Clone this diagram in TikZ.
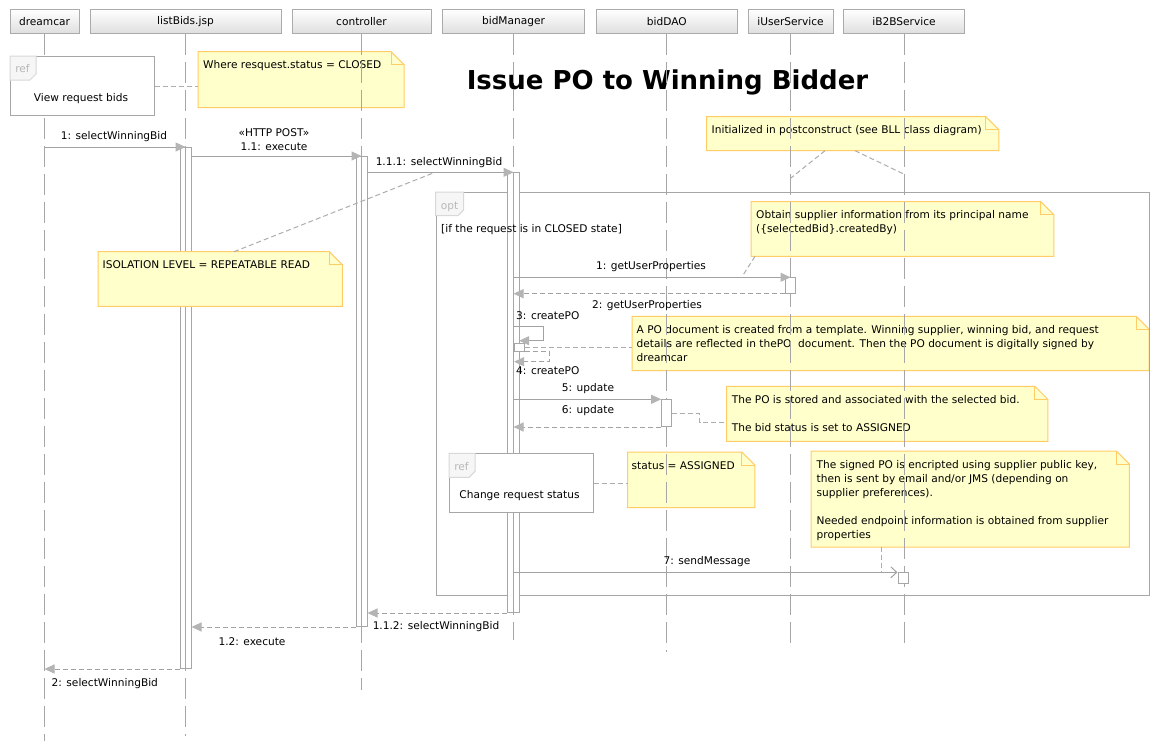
\documentclass[tikz,border=0pt]{standalone}
\usepackage{fontspec}
\setmainfont{DejaVu Sans}
\usetikzlibrary{arrows.meta,calc}
\definecolor{lgray}{HTML}{A6A6A6}
\definecolor{mgray}{HTML}{A2A2A2}
\definecolor{agray}{HTML}{B4B4B4}
\definecolor{cgray}{HTML}{ADADAD}
\definecolor{hdrdraw}{HTML}{ABABAB}
\definecolor{hdrbot}{HTML}{DEDEDE}
\definecolor{notefillc}{HTML}{FFFFCC}
\definecolor{notedrawc}{HTML}{FFCC66}
\definecolor{tagdraw}{HTML}{D8D8D8}
\definecolor{tagfill}{HTML}{F6F6F6}
\definecolor{tagtext}{HTML}{B8B8B8}
\newcommand\drawnote[1]{%
  \path[notebody] (#1.north west) -- ([xshift=-13pt]#1.north east) -- ([yshift=-13pt]#1.north east) -- (#1.south east) -- (#1.south west) -- cycle;
  \draw[notedrawc, line width=1pt] ([xshift=-13pt]#1.north east) -- ([xshift=-13pt,yshift=-13pt]#1.north east) -- ([yshift=-13pt]#1.north east);}
\begin{document}
\begin{tikzpicture}[x=1pt,y=-1pt,
  font=\fontsize{10.6}{14}\selectfont,
  hdr/.style={draw=hdrdraw, line width=1pt, top color=white, bottom color=hdrbot, minimum height=24pt, inner sep=0pt, anchor=north},
  lifeline/.style={draw=lgray, line width=1pt, dash pattern=on 21pt off 7pt},
  act/.style={draw=lgray, fill=white, line width=1pt, inner sep=0pt, anchor=north},
  noteshape/.style={anchor=north west, inner sep=0pt, draw=none},
  notebody/.style={fill=notefillc, draw=notedrawc, line width=1pt},
  notetext/.style={anchor=north west, inner sep=0pt, align=left},
  msg/.style={draw=mgray, line width=1pt, -{Triangle[length=10pt,width=9pt,color=agray]}},
  ret/.style={msg, dash pattern=on 5pt off 3pt},
  async/.style={draw=mgray, line width=1pt, -{Straight Barb[length=6pt,width=11pt,color=mgray]}},
  conn/.style={draw=cgray, line width=1pt, dash pattern=on 5pt off 3pt},
  lbl/.style={anchor=base, inner sep=0pt},
  refbox/.style={draw=lgray, fill=white, line width=1pt, anchor=north west, inner sep=0pt},
  tag/.style={draw=tagdraw, fill=tagfill, line width=1pt},
  tagtxt/.style={anchor=base, inner sep=0pt, text=tagtext}]

\path[use as bounding box, fill=white] (0,0) rectangle (1160,750);

% ---------- notes (under lifelines) ----------
\node[noteshape, minimum width=205.6pt, minimum height=55.6pt] (nWhere) at (198,51.7) {};
\drawnote{nWhere}
\node[notetext] (nWhereT) at ([xshift=5pt,yshift=-7.2pt]nWhere.north west) {\strut Where resquest.status = CLOSED};

\node[noteshape, minimum width=291.9pt, minimum height=33.6pt] (nInit) at (706.5,116.7) {};
\drawnote{nInit}
\node[notetext] (nInitT) at ([xshift=5pt,yshift=-7.2pt]nInit.north west) {\strut Initialized in postconstruct (see BLL class diagram)};

\node[noteshape, minimum width=302.5pt, minimum height=54.3pt] (nObtain) at (751,201.7) {};
\drawnote{nObtain}
\node[notetext] (nObtainT) at ([xshift=5pt,yshift=-7.2pt]nObtain.north west) {\strut Obtain supplier information from its principal name\\(\{selectedBid\}.createdBy)};

\node[noteshape, minimum width=516.8pt, minimum height=54pt] (nPO) at (632,316.3) {};
\drawnote{nPO}
\node[notetext] (nPOT) at ([xshift=4.5pt,yshift=-7.2pt]nPO.north west) {\strut A PO document is created from a template. Winning supplier, winning bid, and request\\details are reflected in thePO\ \ document. Then the PO document is digitally signed by\\dreamcar};

\node[noteshape, minimum width=320.8pt, minimum height=54.7pt] (nStored) at (726.6,386.3) {};
\drawnote{nStored}
\node[notetext] (nStoredT) at ([xshift=5pt,yshift=-7.2pt]nStored.north west) {\strut The PO is stored and associated with the selected bid.\\[14pt]The bid status is set to ASSIGNED};

\node[noteshape, minimum width=126.9pt, minimum height=55.3pt] (nStatus) at (627.5,452) {};
\drawnote{nStatus}
\node[notetext] (nStatusT) at ([xshift=4pt,yshift=-7.2pt]nStatus.north west) {\strut status = ASSIGNED};

\node[noteshape, minimum width=318pt, minimum height=95.7pt] (nSigned) at (811,451) {};
\drawnote{nSigned}
\node[notetext] (nSignedT) at ([xshift=5.5pt,yshift=-7.2pt]nSigned.north west) {\strut The signed PO is encripted using supplier public key,\\then is sent by email and/or JMS (depending on\\supplier preferences).\\[14pt]Needed endpoint information is obtained from supplier\\properties};

% ---------- title ----------
\node[anchor=base, inner sep=0pt, font=\fontsize{26}{30}\selectfont\bfseries] (title) at (667.5,89.3) {Issue PO to Winning Bidder};

% ---------- lifeline heads ----------
\node[hdr, minimum width=69pt] (hDream) at (44.5,9.3) {dreamcar};
\node[hdr, minimum width=191pt] (hList) at (185.5,9.3) {listBids.jsp};
\node[hdr, minimum width=139pt] (hCtrl) at (361.5,9.3) {controller};
\node[hdr, minimum width=142pt] (hBM) at (513.5,9.3) {bidManager};
\node[hdr, minimum width=141.6pt] (hDAO) at (666.8,9.3) {bidDAO};
\node[hdr, minimum width=85pt] (hUS) at (790.5,9.3) {iUserService};
\node[hdr, minimum width=121pt] (hB2B) at (904,9.3) {iB2BService};

\draw[lifeline] (hDream.south) -- ++(0,706.7);
\draw[lifeline] (hList.south) -- ++(0,701.7);
\draw[lifeline] (hCtrl.south) -- ++(0,656);
\draw[lifeline] (hBM.south) -- ++(0,606);
\draw[lifeline] (hDAO.south) -- ++(0,617.4);
\draw[lifeline] (hUS.south) -- ++(0,608.4);
\draw[lifeline] (hB2B.south) -- ++(0,608.4);

% ---------- opt fragment ----------
\node[draw=lgray, line width=1pt, anchor=north west, inner sep=0pt, minimum width=713.4pt, minimum height=403.3pt] (opt) at (435.6,192) {};
\path[tag] (opt.north west) -- ++(28,0) -- ++(0,18) -- ++(-5.5,5.5) -- ++(-22.5,0) -- cycle;
\node[tagtxt] (optT) at (449.5,209) {opt};

% ---------- activations ----------
\node[act, minimum width=11pt, minimum height=521pt] (aLB) at (185.5,147) {};
\draw[lgray, line width=1pt] (aLB.north) -- (aLB.south);
\node[act, minimum width=11pt, minimum height=470pt] (aC) at (361.5,156) {};
\draw[lgray, line width=1pt] (aC.north) -- (aC.south);
\node[act, minimum width=11.5pt, minimum height=439.7pt] (aBM) at (513.5,172.3) {};
\draw[lgray, line width=1pt] (aBM.north) -- (aBM.south);
\node[act, minimum width=10pt, minimum height=15.4pt] (aUS) at (790.5,277.3) {};
\node[act, minimum width=10.3pt, minimum height=7.8pt] (aBMs) at (519.2,342.7) {};
\node[act, minimum width=10pt, minimum height=26.7pt] (aDAO) at (666.7,399.3) {};
\node[act, minimum width=10pt, minimum height=11pt] (aB2B) at (903,572.3) {};

\node[anchor=base west, inner sep=0pt] (guard) at (441,232.7) {[if the request is in CLOSED state]};

% ---------- note over activation ----------
\node[noteshape, minimum width=244pt, minimum height=54.3pt] (nIso) at (98,251.7) {};
\drawnote{nIso}
\node[notetext] (nIsoT) at ([xshift=4.5pt,yshift=-7.2pt]nIso.north west) {\strut ISOLATION LEVEL = REPEATABLE READ};

% ---------- interaction uses ----------
\node[refbox, minimum width=143.5pt, minimum height=59.3pt] (rView) at (10,56) {};
\path[tag] (rView.north west) -- ++(26,0) -- ++(0,18) -- ++(-6,6) -- ++(-20,0) -- cycle;
\node[tagtxt] (rViewTag) at (22.5,72) {ref};
\node[lbl] (rViewT) at (81,101.7) {View request bids};

\node[refbox, minimum width=143.6pt, minimum height=59pt] (rChange) at (449,453.3) {};
\path[tag] (rChange.north west) -- ++(26,0) -- ++(0,18) -- ++(-6,6) -- ++(-20,0) -- cycle;
\node[tagtxt] (rChangeTag) at (461.5,470) {ref};
\node[lbl] (rChangeT) at (519.5,498.3) {Change request status};

% ---------- note anchors ----------
\coordinate (cInitA) at (790.5,178.3);
\coordinate (cInitB) at (903.7,174);
\coordinate (cIso) at (434,172.7);
\coordinate (cObt) at (742.6,275.7);

\draw[conn] (rView.east) -- (rView.east -| nWhere.west);
\draw[conn] ([xshift=118.5pt]nInit.south west) -- (cInitA);
\draw[conn] ([xshift=148.5pt]nInit.south west) -- (cInitB);
\draw[conn] ([xshift=136pt]nIso.north west) -- (cIso);
\draw[conn] ([xshift=4pt]nObtain.south west) -- (cObt);
\draw[conn] (aBMs.east) -- (aBMs.east -| nPO.west);
\draw[conn] (aDAO.east) -- ++(27.6,0) |- ([yshift=-8.6pt]nStored.west);
\draw[conn] (rChange.east) -- (rChange.east -| nStatus.west);
\draw[conn] ([xshift=70pt]nSigned.south west) -- ([xshift=70pt]nSigned.south west |- aB2B.north);

% ---------- messages ----------
\draw[msg] (aLB.north -| hDream) -- (aLB.north);
\node[lbl] (l1) at (114,139) {1: selectWinningBid};
\draw[msg] (aC.north -| aLB.east) -- (aC.north);
\node[lbl] (l11a) at (274,136.7) {«HTTP POST»};
\node[lbl] (l11b) at (274,150.7) {1.1: execute};
\draw[msg] (aBM.north -| aC.east) -- (aBM.north);
\node[lbl] (l111) at (439,165) {1.1.1: selectWinningBid};
\draw[msg] (aUS.north -| aBM) -- (aUS.north);
\node[lbl] (lg1) at (651,269.7) {1: getUserProperties};
\draw[ret] (aUS.south west) -- (aUS.south -| aBM);
\node[lbl] (lg2) at (647,308.7) {2: getUserProperties};
\node[lbl, anchor=base west] (lc3) at (516,319.7) {3: createPO};
\draw[msg] ([yshift=16.7pt]aBMs.north -| aBM) -- ++(30,0) -- ++(0,14.7) -- ([yshift=2pt]aBMs.north);
\draw[ret] (aBMs.south east) -- ++(24.7,0) -- ++(0,10.2) -- ++(-35.5,0);
\node[lbl, anchor=base west] (lc4) at (516,374.7) {4: createPO};
\draw[msg] (aDAO.north -| aBM) -- (aDAO.north west);
\node[lbl] (lu5) at (588,391) {5: update};
\draw[ret] (aDAO.south west) -- (aDAO.south -| aBM);
\node[lbl] (lu6) at (588,413.3) {6: update};
\draw[async] (aB2B.north -| aBM) -- (aB2B.north west);
\node[lbl] (ls7) at (707,564.3) {7: sendMessage};
\draw[ret] (aBM.south west) -- (aBM.south -| aC.east);
\node[lbl] (l112) at (436,629.7) {1.1.2: selectWinningBid};
\draw[ret] (aC.south west) -- (aC.south -| aLB.east);
\node[lbl] (l12) at (252,645.7) {1.2: execute};
\draw[ret] (aLB.south west) -- (aLB.south -| hDream);
\node[lbl] (l2) at (104.8,686.7) {2: selectWinningBid};
\end{tikzpicture}
\end{document}
